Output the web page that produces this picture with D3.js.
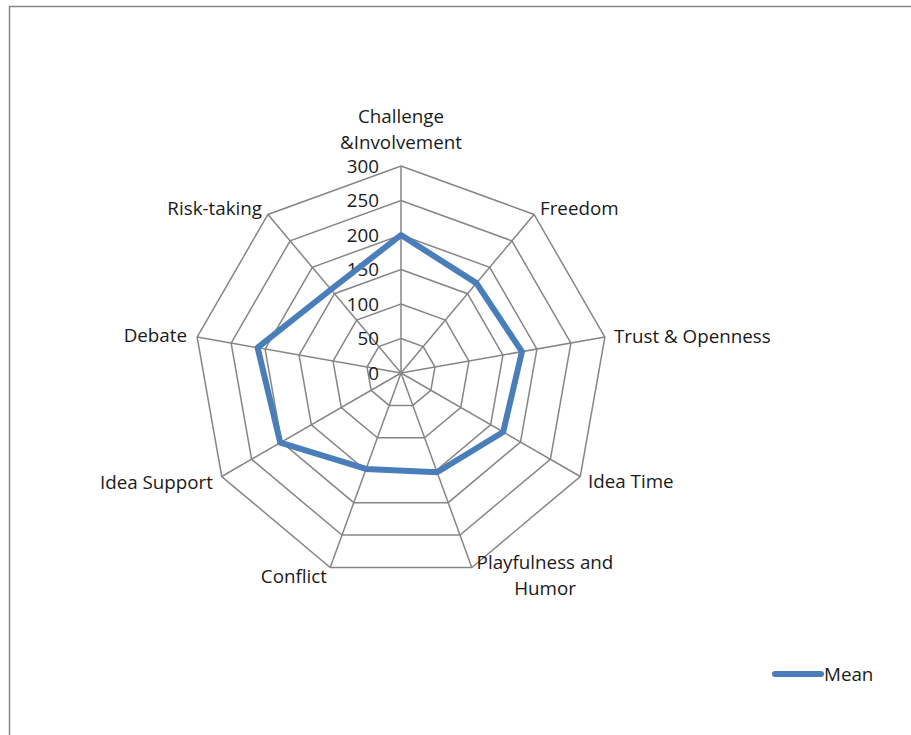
<!DOCTYPE html>
<html>
<head>
<meta charset="utf-8">
<script src="https://cdn.jsdelivr.net/npm/d3@7"></script>
<style>
  html, body { margin: 0; padding: 0; background: #fff; }
  svg { display: block; }
  text { font-family: "Open Sans", "Noto Sans", sans-serif; fill: #1a1a1a; }
</style>
</head>
<body>
<svg id="chart" width="911" height="735"></svg>
<script>
// Creative climate dimensions, clockwise from the top
const categories = [
  ["Challenge", "&Involvement"],
  ["Freedom"],
  ["Trust & Openness"],
  ["Idea Time"],
  ["Playfulness and", "Humor"],
  ["Conflict"],
  ["Idea Support"],
  ["Debate"],
  ["Risk-taking"]
];
const meanValues = [200, 170, 178, 171, 153, 148, 202, 211, 158];
const tickValues = [0, 50, 100, 150, 200, 250, 300];
const seriesName = "Mean";

const svg = d3.select("#chart");
const cx = 401, cy = 373, R = 207;
const n = categories.length;
const fontSize = 18.8;

// outer frame (open to the right and bottom)
svg.append("path")
  .attr("d", "M9.5,740 L9.5,6.5 L915,6.5")
  .attr("fill", "none").attr("stroke", "#868686").attr("stroke-width", 1.5);

const r = d3.scaleLinear().domain([0, 300]).range([0, R]);
const angle = d3.scaleLinear().domain([0, n]).range([0, 2 * Math.PI]);
const pt = (i, v) => [cx + r(v) * Math.sin(angle(i)), cy - r(v) * Math.cos(angle(i))];

const g = svg.append("g");

// concentric polygon grid
g.selectAll("polygon.grid").data(tickValues.filter(d => d > 0)).join("polygon")
  .attr("class", "grid")
  .attr("points", v => d3.range(n).map(i => pt(i, v).join(",")).join(" "))
  .attr("fill", "none").attr("stroke", "#868686").attr("stroke-width", 1.5);

// spokes
g.selectAll("line.spoke").data(d3.range(n)).join("line")
  .attr("class", "spoke")
  .attr("x1", cx).attr("y1", cy)
  .attr("x2", i => pt(i, 300)[0]).attr("y2", i => pt(i, 300)[1])
  .attr("stroke", "#868686").attr("stroke-width", 1.5);

// value labels along the top spoke
g.selectAll("text.tick").data(tickValues).join("text")
  .attr("class", "tick")
  .attr("x", cx - 22).attr("y", v => cy - r(v))
  .attr("dy", "0.35em")
  .attr("text-anchor", "end")
  .attr("font-size", fontSize)
  .text(v => v);

// series line
const line = d3.line().curve(d3.curveLinearClosed);
g.append("path")
  .datum(meanValues.map((v, i) => pt(i, v)))
  .attr("d", line)
  .attr("fill", "none").attr("stroke", "#4A7EBB").attr("stroke-width", 6)
  .attr("stroke-linejoin", "round");

// category labels
const labelPos = [
  { x: 401, y: 116, anchor: "middle" },
  { x: 540, y: 208, anchor: "start" },
  { x: 614, y: 336, anchor: "start" },
  { x: 588, y: 481, anchor: "start" },
  { x: 545, y: 562, anchor: "middle" },
  { x: 327, y: 576, anchor: "end" },
  { x: 213, y: 482, anchor: "end" },
  { x: 187, y: 335, anchor: "end" },
  { x: 262, y: 208, anchor: "end" }
];
categories.forEach((lines, i) => {
  const p = labelPos[i];
  const t = g.append("text")
    .attr("text-anchor", p.anchor)
    .attr("font-size", fontSize);
  lines.forEach((s, k) => {
    t.append("tspan").attr("x", p.x).attr("y", p.y + k * 26).attr("dy", "0.35em").text(s);
  });
});

// legend
const legend = svg.append("g");
legend.append("line")
  .attr("x1", 775).attr("x2", 821).attr("y1", 674).attr("y2", 674)
  .attr("stroke", "#4A7EBB").attr("stroke-width", 6).attr("stroke-linecap", "round");
legend.append("text")
  .attr("x", 824).attr("y", 674).attr("dy", "0.35em")
  .attr("font-size", fontSize)
  .text(seriesName);
</script>
</body>
</html>
